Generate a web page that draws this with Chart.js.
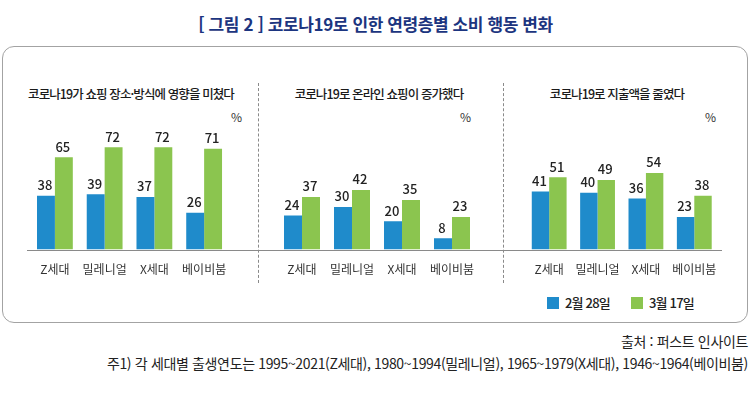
<!DOCTYPE html>
<html lang="ko">
<head>
<meta charset="utf-8">
<script src="https://cdn.jsdelivr.net/npm/chart.js@4.4.1/dist/chart.umd.min.js"></script>
<style>
  html, body { margin: 0; padding: 0; background: #fff; }
  body { width: 751px; height: 397px; position: relative; overflow: hidden;
         font-family: "Noto Sans CJK KR", "Noto Sans", sans-serif; color: #222; }
  .abs { position: absolute; }
  #title { left: 0; width: 751px; top: 11px; text-align: center; font-size: 17px; font-weight: 700;
           color: #1c3580; letter-spacing: -0.4px; }
  #box { left: 2px; top: 46px; width: 744px; height: 275px; border: 1.5px solid #a3a3a3; border-radius: 12px; }
  .ptitle { top: 84px; font-size: 12.5px; font-weight: 500; letter-spacing: -0.9px; text-align: center; white-space: nowrap; color: #1a1a1a; }
  .pct { top: 108px; font-size: 12px; color: #333; }
  .divider { top: 83px; height: 200px; width: 0; border-left: 1.5px dashed #8a8a8a; }
  .canvasWrap canvas { display: block; }
  #legend { top: 293px; left: 547px; font-size: 13px; font-weight: 500; white-space: nowrap; }
  #legend span.sw { display: inline-block; width: 12px; height: 12px; vertical-align: -1px; margin-right: 6px; }
  #legend span.item { margin-right: 21px; letter-spacing: -0.8px; }
  .note { right: 3px; font-size: 14px; white-space: nowrap; letter-spacing: -0.35px; color: #222; }
</style>
</head>
<body>
<div id="title" class="abs">[ 그림 2 ] 코로나19로 인한 연령층별 소비 행동 변화</div>
<div id="box" class="abs"></div>
<div class="abs divider" style="left:258px"></div>
<div class="abs divider" style="left:503px"></div>
<div id="panels"></div>
<div id="legend" class="abs"></div>
<div class="abs note" style="top:331px">출처 : 퍼스트 인사이트</div>
<div class="abs note" style="top:353px">주1) 각 세대별 출생연도는 1995~2021(Z세대), 1980~1994(밀레니얼), 1965~1979(X세대), 1946~1964(베이비붐)</div>

<script>
// --- data ---
const categories = ['Z세대', '밀레니얼', 'X세대', '베이비붐'];
const seriesNames = ['2월 28일', '3월 17일'];
const seriesColors = ['#1f8bcb', '#8bc54f'];
const panelTitles = [
    '코로나19가 쇼핑 장소·방식에 영향을 미쳤다',
    '코로나19로 온라인 쇼핑이 증가했다',
    '코로나19로 지출액을 줄였다'
];
const feb28Impact = [38, 39, 37, 26];
const mar17Impact = [65, 72, 72, 71];
const feb28Online = [24, 30, 20, 8];
const mar17Online = [37, 42, 35, 23];
const feb28Spend = [41, 40, 36, 23];
const mar17Spend = [51, 49, 54, 38];
const unitLabel = '%';

// --- layout per panel (canvas box + padding so the plot area sits where the bars are) ---
const panels = [
    { values: [feb28Impact, mar17Impact], left: 27, width: 232, padL: 2, padR: 30, titleX: 131, pctX: 231, lineTo: 232 },
    { values: [feb28Online, mar17Online], left: 259, width: 245, padL: 18, padR: 27, titleX: 379, pctX: 460, lineTo: 245 },
    { values: [feb28Spend, mar17Spend], left: 504, width: 226, padL: 21, padR: 5, titleX: 617, pctX: 705, lineTo: 218 }
];

// value labels above each bar
const valueLabels = {
    id: 'valueLabels',
    afterDatasetsDraw(chart) {
        const ctx = chart.ctx;
        ctx.save();
        ctx.font = '500 13px "Noto Sans CJK KR", sans-serif';
        ctx.fillStyle = '#222';
        ctx.textAlign = 'center';
        ctx.textBaseline = 'bottom';
        chart.data.datasets.forEach((ds, i) => {
            chart.getDatasetMeta(i).data.forEach((bar, j) => {
                ctx.fillText(ds.data[j], bar.x - 1, bar.y - 4);
            });
        });
        ctx.restore();
    }
};

// grey baseline running across the whole panel
const baseline = {
    id: 'baseline',
    afterDatasetsDraw(chart, args, opts) {
        const ctx = chart.ctx;
        const y = Math.round(chart.scales.y.getPixelForValue(0)) + 0.5;
        ctx.save();
        ctx.strokeStyle = '#8a8a8a';
        ctx.lineWidth = 1.2;
        ctx.beginPath();
        ctx.moveTo(0, y);
        ctx.lineTo(opts.to, y);
        ctx.stroke();
        ctx.restore();
    }
};

const holder = document.getElementById('panels');
panels.forEach((p, idx) => {
    const t = document.createElement('div');
    t.className = 'abs ptitle';
    t.textContent = panelTitles[idx];
    t.style.left = (p.titleX - 150) + 'px';
    t.style.width = '300px';
    holder.appendChild(t);

    const pc = document.createElement('div');
    pc.className = 'abs pct';
    pc.textContent = unitLabel;
    pc.style.left = p.pctX + 'px';
    holder.appendChild(pc);

    const wrap = document.createElement('div');
    wrap.className = 'abs canvasWrap';
    wrap.style.left = p.left + 'px';
    wrap.style.top = '126px';
    wrap.style.width = p.width + 'px';
    wrap.style.height = '164px';
    const cv = document.createElement('canvas');
    wrap.appendChild(cv);
    holder.appendChild(wrap);

    new Chart(cv, {
        type: 'bar',
        data: {
            labels: categories,
            datasets: seriesNames.map((name, k) => ({
                label: name,
                data: p.values[k],
                backgroundColor: seriesColors[k],
                borderWidth: 0,
                barPercentage: 1.0,
                categoryPercentage: 0.72
            }))
        },
        options: {
            responsive: true,
            maintainAspectRatio: false,
            animation: false,
            layout: { padding: { top: 10, left: p.padL, right: p.padR, bottom: 0 } },
            scales: {
                x: {
                    grid: { display: false, drawTicks: false },
                    border: { display: false },
                    ticks: {
                        color: '#333', padding: 13, maxRotation: 0, minRotation: 0, autoSkip: false,
                        font: { family: '"Noto Sans CJK KR", sans-serif', size: 12 }
                    }
                },
                y: { display: false, min: 0, max: 80 }
            },
            plugins: {
                legend: { display: false },
                tooltip: { enabled: false },
                baseline: { to: p.lineTo }
            }
        },
        plugins: [valueLabels, baseline]
    });
});

// legend
const legend = document.getElementById('legend');
seriesNames.forEach((name, k) => {
    const item = document.createElement('span');
    item.className = 'item';
    item.innerHTML = '<span class="sw" style="background:' + seriesColors[k] + '"></span>' + name;
    legend.appendChild(item);
});
</script>
</body>
</html>
